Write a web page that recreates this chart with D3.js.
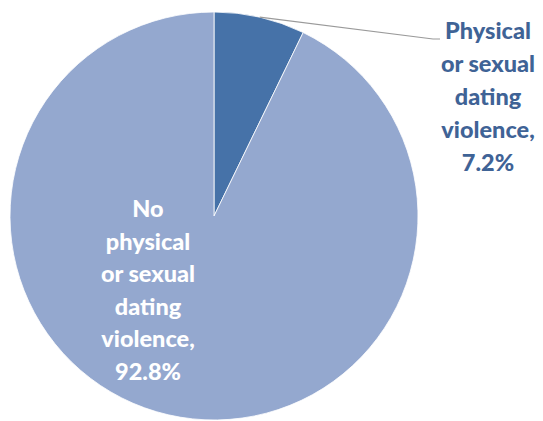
<!DOCTYPE html>
<html><head><meta charset="utf-8">
<script src="https://cdn.jsdelivr.net/npm/d3@7"></script>
<style>body{margin:0;background:#fff}svg{display:block}</style>
</head><body>
<svg id="c" width="543" height="421"></svg>
<script>
const categories = ["Physical or sexual dating violence", "No physical or sexual dating violence"];
const values = [7.2, 92.8];
const labelLines = [
  ["Physical", "or sexual", "dating", "violence,", "7.2%"],
  ["No", "physical", "or sexual", "dating", "violence,", "92.8%"]
];
const colors = ["#4672A8", "#94A8CF"];

const svg = d3.select("#c");
const cx = 214, cy = 216, r = 204;
const g = svg.append("g").attr("transform", `translate(${cx},${cy})`);
const pie = d3.pie().sort(null).value(d => d)(values);
const arc = d3.arc().innerRadius(0).outerRadius(r);
g.selectAll("path").data(pie).enter().append("path")
  .attr("d", arc).attr("fill", (d, i) => colors[i])
  .attr("stroke", "#fff").attr("stroke-width", 0.8);

const font = "Lato, 'Open Sans', sans-serif";
const a0 = (pie[0].startAngle + pie[0].endAngle) / 2;
const p0 = [Math.sin(a0) * r, -Math.cos(a0) * r];
g.append("polyline")
  .attr("points", [p0, [433 - cx, 39 - cy], [440 - cx, 39 - cy]].map(p => p.join(",")).join(" "))
  .attr("fill", "none").attr("stroke", "#9a9a9a").attr("stroke-width", 1.2);

const t1 = svg.append("text").attr("text-anchor", "middle")
  .attr("font-family", font).attr("font-weight", 900).attr("font-size", 23.5)
  .attr("fill", "#3F6396");
labelLines[0].forEach((s, i) => t1.append("tspan").attr("x", 488).attr("y", 39 + i * 33).text(s));

const t2 = svg.append("text").attr("text-anchor", "middle")
  .attr("font-family", font).attr("font-weight", 900).attr("font-size", 23.5)
  .attr("fill", "#ffffff");
labelLines[1].forEach((s, i) => t2.append("tspan").attr("x", 148).attr("y", 217 + i * 32.6).text(s));
</script>
</body></html>
